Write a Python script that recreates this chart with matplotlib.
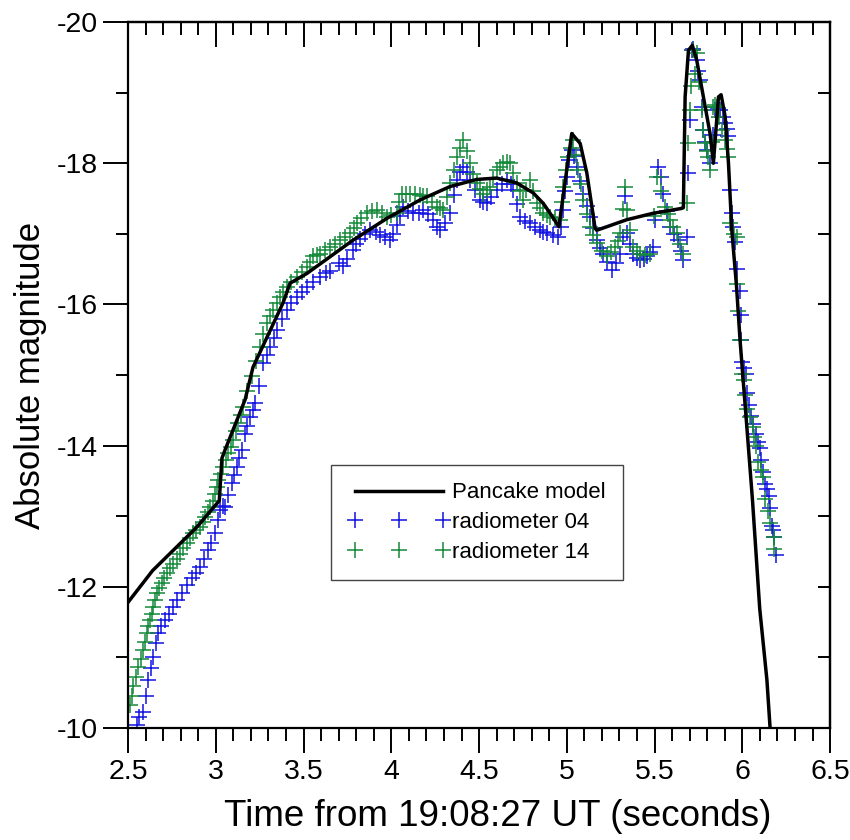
import numpy as np
import matplotlib
matplotlib.use('Agg')
import matplotlib.pyplot as plt
from matplotlib.ticker import MultipleLocator, FixedLocator

# =========================
# 1. 数据
# =========================

# Pancake model
model_t = [2.5, 2.64, 2.89, 3.02, 3.035, 3.053, 3.167, 3.212, 3.383, 3.423,
           3.52, 3.782, 3.976, 4.164, 4.335, 4.487, 4.60, 4.715, 4.808, 4.866,
           4.905, 4.955, 5.028, 5.076, 5.114, 5.161, 5.17, 5.342, 5.49, 5.655,
           5.664, 5.674, 5.693, 5.715, 5.74, 5.778, 5.816, 5.835, 5.864, 5.879,
           5.902, 5.921, 5.94, 5.967, 5.987, 6.027, 6.058, 6.099, 6.14, 6.158]
model_m = [-11.78, -12.23, -12.84, -13.22, -13.82, -13.94, -14.65, -15.11, -16.02, -16.30,
           -16.44, -16.91, -17.22, -17.48, -17.67, -17.77, -17.79, -17.72, -17.58, -17.43,
           -17.29, -17.10, -18.42, -18.28, -17.86, -17.08, -17.05, -17.20, -17.29, -17.36,
           -17.37, -18.94, -19.60, -19.67, -19.46, -18.94, -18.42, -18.00, -18.94, -18.97,
           -18.66, -18.00, -17.05, -16.25, -15.49, -14.22, -13.22, -11.69, -10.68, -10.00]

# radiometer 04
r04_t = [2.55, 2.587, 2.616, 2.644, 2.673, 2.711, 2.758, 2.806, 2.863, 2.91,
         2.958, 2.996, 3.024, 3.053, 3.091, 3.119, 3.148, 3.167, 3.195, 3.224,
         3.271, 3.309, 3.347, 3.404, 3.461, 3.518, 3.594, 3.65, 3.70, 3.75,
         3.784, 3.822, 3.879, 3.936, 3.993, 4.031, 4.069, 4.126, 4.183, 4.24,
         4.278, 4.335, 4.373, 4.411, 4.449, 4.506, 4.544, 4.601, 4.658, 4.696,
         4.734, 4.791, 4.848, 4.886, 4.952, 4.98, 4.999, 5.028, 5.057, 5.094,
         5.132, 5.17, 5.208, 5.256, 5.303, 5.332, 5.341, 5.379, 5.417, 5.456,
         5.493, 5.522, 5.55, 5.588, 5.636, 5.664, 5.683, 5.692, 5.702, 5.711,
         5.74, 5.759, 5.769, 5.778, 5.797, 5.816, 5.845, 5.874, 5.902, 5.92,
         5.93, 5.949, 5.956, 5.987, 5.99, 5.997, 6.018, 6.027, 6.048, 6.078,
         6.099, 6.109, 6.13, 6.15, 6.16, 6.17, 6.181, 6.19]
r04_m = [-10.04, -10.23, -10.68, -11.01, -11.34, -11.53, -11.72, -11.91, -12.12, -12.28,
         -12.52, -12.76, -13.09, -13.13, -13.47, -13.70, -13.94, -14.17, -14.41, -14.60,
         -15.17, -15.40, -15.64, -15.92, -16.11, -16.25, -16.39, -16.47, -16.58, -16.65,
         -16.77, -16.93, -17.05, -16.98, -16.91, -17.12, -17.38, -17.29, -17.34, -17.20,
         -17.05, -17.29, -17.76, -17.95, -17.76, -17.48, -17.43, -17.62, -17.76, -17.62,
         -17.24, -17.15, -17.05, -17.01, -16.96, -17.34, -17.81, -18.19, -17.95, -17.57,
         -17.24, -16.91, -16.72, -16.49, -16.72, -17.53, -17.01, -16.72, -16.63, -16.68,
         -16.82, -17.95, -17.57, -17.10, -16.91, -16.63, -16.96, -17.86, -18.61, -19.60,
         -19.46, -19.18, -18.80, -18.47, -18.19, -18.00, -18.75, -18.75, -18.57, -18.38,
         -17.62, -17.10, -16.88, -16.19, -15.85, -15.18, -15.01, -14.75, -14.42, -14.17,
         -13.97, -13.79, -13.46, -13.29, -13.11, -12.86, -12.71, -12.45]

# radiometer 04，补充读数（条带中间的点）
r04_t_extra = [2.56, 2.60, 2.63, 2.66, 2.69, 2.735, 2.78, 2.835, 2.885, 2.935,
               2.975, 3.01, 3.04, 3.07, 3.105, 3.135, 3.18, 3.21, 3.245, 3.29,
               3.33, 3.375, 3.43, 3.49, 3.555, 3.63, 3.725, 3.80, 3.85, 3.91,
               3.965, 4.01, 4.05, 4.095, 4.155, 4.21, 4.26, 4.305, 4.355, 4.39,
               4.43, 4.475, 4.525, 4.57, 4.63, 4.68, 4.715, 4.76, 4.82, 4.865,
               4.92, 4.965, 4.99, 5.015, 5.04, 5.075, 5.115, 5.15, 5.19, 5.23,
               5.28, 5.32, 5.36, 5.40, 5.44, 5.475, 5.505, 5.535, 5.57, 5.61,
               5.65, 5.72, 5.75, 5.787, 5.83, 5.86, 5.89, 5.911, 5.94, 5.97,
               5.993, 6.008, 6.038, 6.06, 6.088, 6.12, 6.14, 6.175]
r04_m_extra = [-10.15, -10.45, -10.85, -11.20, -11.45, -11.62, -11.82, -12.02, -12.20, -12.40,
               -12.62, -12.95, -13.15, -13.30, -13.58, -13.82, -14.28, -14.50, -14.85, -15.28,
               -15.52, -15.80, -16.02, -16.18, -16.32, -16.45, -16.55, -16.85, -17.00, -17.03,
               -16.95, -17.00, -17.25, -17.33, -17.30, -17.28, -17.10, -17.15, -17.55, -17.88,
               -17.88, -17.62, -17.45, -17.52, -17.70, -17.70, -17.42, -17.18, -17.10, -17.03,
               -16.98, -17.10, -17.60, -18.05, -18.10, -17.75, -17.40, -17.08, -16.80, -16.60,
               -16.58, -16.95, -16.85, -16.66, -16.64, -16.74, -17.20, -17.80, -17.32, -17.00,
               -16.75, -19.62, -19.30, -18.30, -18.40, -18.78, -18.65, -18.48, -17.30, -16.50,
               -15.50, -15.10, -14.58, -14.30, -14.05, -13.62, -13.38, -12.80]

# radiometer 14
r14_t = [2.511, 2.53, 2.559, 2.587, 2.607, 2.625, 2.644, 2.664, 2.692, 2.721,
         2.758, 2.796, 2.834, 2.872, 2.91, 2.939, 2.967, 2.996, 3.015, 3.043,
         3.072, 3.10, 3.128, 3.157, 3.205, 3.252, 3.29, 3.328, 3.366, 3.404,
         3.461, 3.518, 3.556, 3.594, 3.651, 3.708, 3.765, 3.803, 3.86, 3.917,
         3.974, 4.031, 4.06, 4.107, 4.164, 4.202, 4.259, 4.297, 4.335, 4.373,
         4.411, 4.449, 4.487, 4.525, 4.563, 4.601, 4.638, 4.677, 4.715, 4.752,
         4.791, 4.829, 4.866, 4.905, 4.962, 4.98, 5.009, 5.037, 5.066, 5.094,
         5.132, 5.17, 5.227, 5.275, 5.303, 5.332, 5.341, 5.379, 5.417, 5.474,
         5.512, 5.56, 5.588, 5.626, 5.664, 5.683, 5.692, 5.702, 5.721, 5.73,
         5.74, 5.769, 5.778, 5.788, 5.807, 5.816, 5.835, 5.854, 5.883, 5.902,
         5.921, 5.93, 5.967, 5.967, 5.987, 5.997, 6.007, 6.027, 6.058, 6.078,
         6.089, 6.119, 6.13, 6.16, 6.181, 6.181]
r14_m = [-10.33, -10.59, -10.87, -11.10, -11.34, -11.53, -11.72, -11.91, -12.05, -12.19,
         -12.33, -12.47, -12.62, -12.76, -12.85, -12.99, -13.13, -13.32, -13.51, -13.70,
         -13.89, -14.08, -14.32, -14.55, -14.98, -15.40, -15.73, -15.92, -16.11, -16.25,
         -16.39, -16.53, -16.68, -16.72, -16.82, -16.91, -17.01, -17.15, -17.29, -17.34,
         -17.24, -17.29, -17.57, -17.57, -17.55, -17.53, -17.38, -17.34, -17.72, -18.09,
         -18.33, -18.00, -17.72, -17.57, -17.67, -17.90, -18.00, -18.00, -17.72, -17.48,
         -17.76, -17.43, -17.29, -17.24, -17.20, -17.67, -18.09, -18.33, -17.90, -17.48,
         -17.10, -16.87, -16.68, -16.82, -17.01, -17.67, -17.34, -16.82, -16.72, -16.72,
         -17.81, -17.38, -17.20, -17.01, -16.72, -17.43, -18.28, -18.75, -19.60, -19.27,
         -19.56, -18.75, -18.47, -18.28, -18.09, -17.90, -18.80, -18.80, -18.47, -18.33,
         -18.09, -17.15, -16.95, -16.29, -15.49, -15.01, -14.93, -14.52, -14.27, -13.99,
         -13.77, -13.56, -13.24, -12.91, -12.71, -12.53]

# radiometer 14，补充读数
r14_t_extra = [2.52, 2.545, 2.573, 2.597, 2.616, 2.635, 2.654, 2.678, 2.706, 2.74,
               2.777, 2.815, 2.853, 2.89, 2.925, 2.953, 2.982, 3.005, 3.03, 3.058,
               3.086, 3.114, 3.142, 3.18, 3.23, 3.27, 3.31, 3.347, 3.385, 3.43,
               3.49, 3.537, 3.575, 3.62, 3.68, 3.735, 3.785, 3.83, 3.89, 3.945,
               4.00, 4.045, 4.083, 4.135, 4.183, 4.23, 4.278, 4.316, 4.355, 4.392,
               4.43, 4.468, 4.506, 4.544, 4.582, 4.62, 4.657, 4.696, 4.734, 4.77,
               4.81, 4.848, 4.885, 4.935, 4.97, 4.995, 5.022, 5.052, 5.08, 5.113,
               5.15, 5.2, 5.25, 5.29, 5.32, 5.36, 5.398, 5.445, 5.495, 5.536,
               5.574, 5.607, 5.645, 5.71, 5.755, 5.798, 5.825, 5.845, 5.868, 5.912,
               5.95, 5.977, 6.017, 6.043, 6.068, 6.104, 6.145]
r14_m_extra = [-10.45, -10.72, -10.98, -11.22, -11.44, -11.62, -11.82, -11.98, -12.12, -12.26,
               -12.40, -12.55, -12.69, -12.80, -12.92, -13.06, -13.22, -13.42, -13.60, -13.80,
               -13.98, -14.20, -14.44, -14.78, -15.20, -15.58, -15.83, -16.02, -16.18, -16.32,
               -16.46, -16.60, -16.70, -16.77, -16.86, -16.95, -17.08, -17.22, -17.32, -17.30,
               -17.26, -17.45, -17.57, -17.56, -17.54, -17.45, -17.36, -17.52, -17.90, -18.22,
               -18.18, -17.85, -17.64, -17.62, -17.78, -17.95, -18.02, -17.86, -17.60, -17.62,
               -17.60, -17.36, -17.26, -17.22, -17.45, -17.90, -18.22, -18.12, -17.70, -17.28,
               -16.98, -16.76, -16.74, -16.90, -17.35, -17.05, -16.76, -16.70, -17.25, -17.60,
               -17.28, -17.10, -16.85, -19.10, -19.15, -18.18, -18.30, -18.82, -18.65, -18.20,
               -17.00, -15.90, -14.72, -14.40, -14.12, -13.66, -13.08]

x_major = [2.5, 3, 3.5, 4, 4.5, 5, 5.5, 6, 6.5]
x_labels = ['2.5', '3', '3.5', '4', '4.5', '5', '5.5', '6', '6.5']
y_major = [-20, -18, -16, -14, -12, -10]
y_labels = ['-20', '-18', '-16', '-14', '-12', '-10']

# =========================
# 2. 画图
# =========================

plt.rcParams['font.family'] = ['Liberation Sans', 'DejaVu Sans']

blue = '#1212e2'
green = '#14893a'

fig = plt.figure(figsize=(8.5, 8.4), dpi=100)
ax = fig.add_axes([0.1506, 0.1333, 0.826, 0.8405])

t04 = np.concatenate([r04_t, r04_t_extra])
m04 = np.concatenate([r04_m, r04_m_extra])
t14 = np.concatenate([r14_t, r14_t_extra])
m14 = np.concatenate([r14_m, r14_m_extra])

ax.plot(t04, m04, linestyle='none', marker='+', markersize=11.5,
        markeredgewidth=1.1, color=blue, label='radiometer 04', zorder=2)
ax.plot(t14, m14, linestyle='none', marker='+', markersize=11.5,
        markeredgewidth=1.1, color=green, label='radiometer 14', zorder=2)
ax.plot(model_t, model_m, color='black', linewidth=2.5, label='Pancake model',
        zorder=3)

ax.set_xlim(2.5, 6.5)
ax.set_ylim(-10, -20)

# 坐标轴刻度：底部和左侧向外，顶部和右侧向内
ax.set_xticks(x_major)
ax.set_xticklabels(x_labels)
ax.xaxis.set_minor_locator(MultipleLocator(0.1))
ax.set_yticks(y_major)
ax.set_yticklabels(y_labels)
ax.yaxis.set_minor_locator(FixedLocator([-19, -17, -15, -13, -11]))

ax.tick_params(which='major', direction='out', length=18, width=1.4,
               labelsize=20.5, pad=4)
ax.tick_params(which='minor', direction='out', length=9, width=1.4)

secx = ax.secondary_xaxis('top')
secx.set_xticks(x_major)
secx.xaxis.set_minor_locator(MultipleLocator(0.1))
secx.tick_params(which='major', direction='in', length=18, width=1.4,
                 labeltop=False)
secx.tick_params(which='minor', direction='in', length=9, width=1.4)

secy = ax.secondary_yaxis('right')
secy.set_yticks(list(range(-20, -9)))
secy.tick_params(which='major', direction='in', length=9, width=1.4,
                 labelright=False)

for s in list(ax.spines.values()) + list(secx.spines.values()) + list(secy.spines.values()):
    s.set_linewidth(1.6)

ax.set_xlabel('Time from 19:08:27 UT (seconds)', fontsize=26.5)
ax.xaxis.set_label_coords(0.526, -0.1)
ax.set_ylabel('Absolute magnitude', fontsize=25)
ax.yaxis.set_label_coords(-0.115, 0.5)

# 图例
handles, labels = ax.get_legend_handles_labels()
order = [2, 0, 1]
leg = ax.legend([handles[i] for i in order], [labels[i] for i in order],
                loc='upper left', bbox_to_anchor=(0.289, 0.3725),
                borderaxespad=0, fontsize=16, numpoints=3, handlelength=4.55,
                handletextpad=0.1, labelspacing=0.39, borderpad=0.78,
                fancybox=False, framealpha=1)
leg.get_frame().set_edgecolor('#444444')
leg.get_frame().set_linewidth(1.0)

fig.savefig('out.png', dpi=100)
plt.close(fig)
